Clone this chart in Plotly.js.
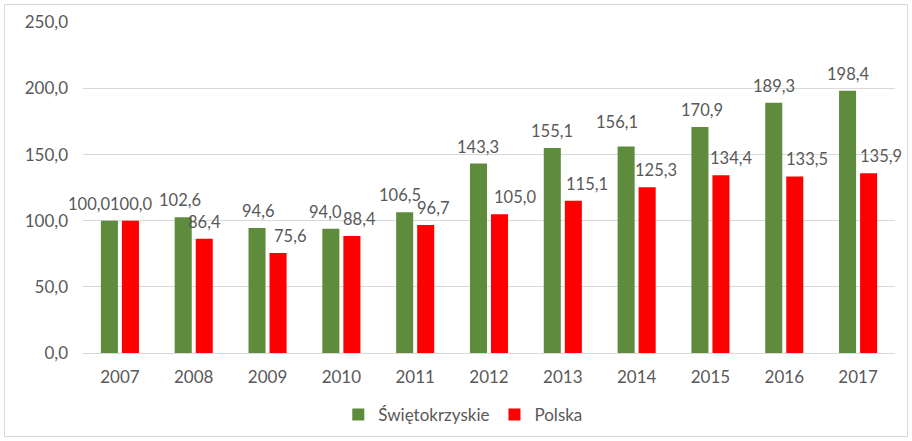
<!DOCTYPE html>
<html><head><meta charset="utf-8">
<script src="https://cdn.plot.ly/plotly-3.0.1.min.js"></script>
<style>body{margin:0;}#frame{position:absolute;left:4px;top:4px;width:902px;height:431px;border:1px solid #d9d9d9;pointer-events:none;}#chart{width:912px;height:441px;}</style>
</head><body>
<div id="chart"></div><div id="frame"></div>
<script>
const years = ['2007','2008','2009','2010','2011','2012','2013','2014','2015','2016','2017'];
const swietokrzyskie = [100.0,102.6,94.6,94.0,106.5,143.3,155.1,156.1,170.9,189.3,198.4];
const polska = [100.0,86.4,75.6,88.4,96.7,105.0,115.1,125.3,134.4,133.5,135.9];
const yTicks = [0,50,100,150,200,250];
const yTickLabels = ['0,0','50,0','100,0','150,0','200,0','250,0'];

// label placement nudges (pixels), as the reference's labels are not all centred on their bars
const nudgeGreenX = [-20,-3,1,-5,-5,0,0,-9,2,0,0];
const nudgeRedX   = [1,0,12,8,7,15,14,9,10,12,12];
const nudgeGreenY = [0,0,0,0,0,0,0,8,0,0,0];

const BARGAP = 0.43;
const halfSlot = (1 - BARGAP) / 4;
const fmt = v => v.toFixed(1).replace('.', ',');
const labelFont = {family:'Lato, Calibri, sans-serif', size:16.5, color:'#595959'};

const annotations = [];
years.forEach((yr, i) => {
  annotations.push({x: i - halfSlot, y: swietokrzyskie[i], xref:'x', yref:'y', text: fmt(swietokrzyskie[i]),
    showarrow:false, yanchor:'bottom', xanchor:'center', xshift: nudgeGreenX[i], yshift: 5 + nudgeGreenY[i], font: labelFont});
  annotations.push({x: i + halfSlot, y: polska[i], xref:'x', yref:'y', text: fmt(polska[i]),
    showarrow:false, yanchor:'bottom', xanchor:'center', xshift: nudgeRedX[i], yshift: 5, font: labelFont});
});

const traces = [
  {type:'bar', name:'Świętokrzyskie', x:years, y:swietokrzyskie, marker:{color:'#5e8c3c'}, hoverinfo:'none'},
  {type:'bar', name:'Polska', x:years, y:polska, marker:{color:'#ff0000'}, hoverinfo:'none'}
];
const layout = {
  width:912, height:441,
  margin:{l:83, r:17, t:22, b:88},
  separators:',.',
  barmode:'group', bargap:BARGAP, bargroupgap:0.19,
  paper_bgcolor:'#fff', plot_bgcolor:'#fff',
  font:{family:'Lato, Calibri, sans-serif', size:17, color:'#595959'},
  xaxis:{type:'category', range:[-0.5, years.length - 0.5], showgrid:false, showline:false, ticks:'', ticklabelstandoff:12,
         tickfont:{size:17, color:'#595959'}, automargin:false},
  yaxis:{range:[0,250.3], tickvals:yTicks, ticktext:yTickLabels, showgrid:true, gridcolor:'#d9d9d9', gridwidth:1,
         zeroline:true, zerolinecolor:'#d9d9d9', zerolinewidth:1, showline:false, ticks:'', ticklabelstandoff:14,
         tickfont:{size:17, color:'#595959'}, automargin:false},
  annotations: annotations,
  showlegend:true,
  legend:{orientation:'h', xref:'container', yref:'container', x:0.508, xanchor:'center', y:0.059, yanchor:'middle',
          font:{size:17, color:'#595959'}, itemwidth:30, traceorder:'normal'}
};
Plotly.newPlot('chart', traces, layout, {displayModeBar:false, staticPlot:true});
</script>
</body></html>
